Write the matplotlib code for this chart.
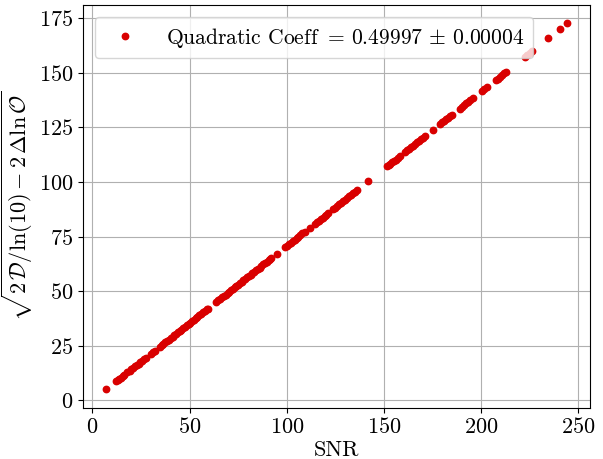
import matplotlib
matplotlib.use("Agg")
import matplotlib.pyplot as plt

plt.rcParams["font.family"] = "serif"
plt.rcParams["font.serif"] = ["cmr10", "DejaVu Serif"]
plt.rcParams["mathtext.fontset"] = "cm"
plt.rcParams["axes.formatter.use_mathtext"] = True

# SNR values
snr = [
    7.1,
    12.2, 13.0, 13.8, 14.6, 15.5, 16.4,
    18.0, 19.1, 20.0, 21.0, 21.9, 22.8, 23.7, 24.6, 25.5, 26.4, 27.6,
    30.2, 31.0, 32.0,
    34.5, 35.6, 36.5, 37.5, 38.4, 39.3, 40.2, 41.2, 42.1, 43.0, 44.0, 44.9,
    45.8, 46.7, 47.6, 48.6, 49.5, 50.4, 51.3, 52.2, 53.1, 54.0, 55.0, 56.0,
    56.9, 57.8, 58.8, 59.4,
    63.8, 64.8, 65.7, 66.7, 67.6, 68.5, 69.5, 70.4, 71.3, 72.2, 73.1, 74.0,
    75.0, 75.9, 76.8, 77.7, 78.6, 79.6, 80.5, 81.4, 82.3, 83.2, 84.2, 85.1,
    86.0, 86.9, 87.9, 88.8, 89.7, 90.6, 91.5, 92.1,
    94.8,
    99.0, 100.0, 101.0, 102.0, 103.0, 104.0, 105.0, 106.0, 107.0, 108.0, 109.3,
    111.9,
    114.4, 115.4, 116.4, 117.4, 118.4, 119.4, 120.3, 121.2,
    123.8, 124.8, 125.8, 126.8, 127.9, 129.0, 130.0, 131.0, 132.1, 133.1,
    134.0, 135.0, 136.0,
    141.8,
    151.5, 152.4, 153.3, 154.2, 155.1, 156.0, 157.0, 158.0,
    160.8, 162.0, 163.0, 164.0, 165.0, 166.0, 167.0, 168.0, 169.0, 170.0, 171.0,
    175.0,
    178.9, 180.0, 181.0, 182.0, 183.0, 184.0, 185.0,
    189.0, 190.0, 191.2, 192.3, 193.4, 194.5, 195.6,
    200.5, 201.7, 203.0,
    207.5, 208.5, 209.6, 210.7, 211.8, 212.9,
    222.7, 223.8, 225.0, 226.0,
    234.5,
    240.7,
    244.3,
]

# sqrt(2D/ln10 - 2 dlnO) values
stat = [
    5.0,
    8.6, 9.2, 9.8, 10.3, 11.0, 11.6,
    12.7, 13.5, 14.1, 14.8, 15.5, 16.1, 16.8, 17.4, 18.0, 18.7, 19.5,
    21.4, 21.9, 22.6,
    24.4, 25.2, 25.8, 26.5, 27.2, 27.8, 28.4, 29.1, 29.8, 30.4, 31.1, 31.7,
    32.4, 33.0, 33.7, 34.4, 35.0, 35.6, 36.3, 36.9, 37.5, 38.2, 38.9, 39.6,
    40.2, 40.9, 41.6, 42.0,
    45.1, 45.8, 46.5, 47.2, 47.8, 48.4, 49.1, 49.8, 50.4, 51.1, 51.7, 52.3,
    53.0, 53.7, 54.3, 54.9, 55.6, 56.3, 56.9, 57.6, 58.2, 58.8, 59.5, 60.2,
    60.8, 61.4, 62.2, 62.8, 63.4, 64.1, 64.7, 65.1,
    67.0,
    70.0, 70.7, 71.4, 72.1, 72.8, 73.5, 74.2, 75.0, 75.7, 76.4, 77.3,
    79.1,
    80.9, 81.6, 82.3, 83.0, 83.7, 84.4, 85.1, 85.7,
    87.5, 88.2, 89.0, 89.7, 90.4, 91.2, 91.9, 92.6, 93.4, 94.1,
    94.8, 95.5, 96.2,
    100.3,
    107.1, 107.8, 108.4, 109.0, 109.7, 110.3, 111.0, 111.7,
    113.7, 114.6, 115.3, 116.0, 116.7, 117.4, 118.1, 118.8, 119.5, 120.2, 120.9,
    123.7,
    126.5, 127.3, 128.0, 128.7, 129.4, 130.1, 130.8,
    133.6, 134.3, 135.2, 136.0, 136.8, 137.5, 138.3,
    141.8, 142.6, 143.5,
    146.7, 147.4, 148.2, 149.0, 149.8, 150.5,
    157.5, 158.3, 159.1, 159.8,
    165.8,
    170.2,
    172.7,
]

coeff_label = r"Quadratic Coeff $=\,0.49997\,\pm\,0.00004$"

fig = plt.figure(figsize=(6.03, 4.59), dpi=100)
ax = fig.add_axes([0.138, 0.112, 0.841, 0.877])

ax.plot(snr, stat, "o", color="#d90000", ms=4.6, label=coeff_label, zorder=3)

ax.set_xlabel("SNR", fontsize=16, labelpad=2)
ax.set_ylabel(r"$\sqrt{2\,\mathcal{D}/\ln(10) - 2\,\Delta\ln\mathcal{O}}$",
              fontsize=16, labelpad=3)
ax.tick_params(labelsize=16)
ax.grid(True)
ax.legend(loc="upper left", fontsize=15.5, handletextpad=0.9, borderaxespad=0.55)

fig.savefig("out.png", dpi=100)
